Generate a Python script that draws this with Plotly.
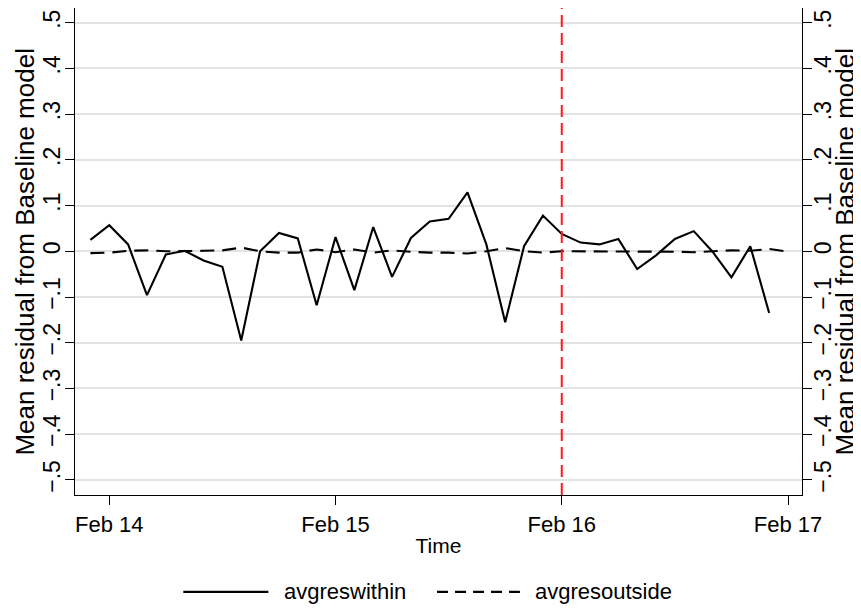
import pandas as pd
import plotly.graph_objects as go

# ---- data ----
times_within = pd.date_range("2021-02-13 22:00", periods=37, freq="2h")
times_outside = pd.date_range("2021-02-13 22:00", periods=38, freq="2h")

avgreswithin = [0.025, 0.057, 0.015, -0.096, -0.007, 0.001, -0.020, -0.034, -0.195, 0.000,
                0.040, 0.028, -0.118, 0.031, -0.085, 0.053, -0.056, 0.029, 0.065, 0.071,
                0.129, 0.015, -0.155, 0.011, 0.078, 0.038, 0.019, 0.015, 0.027, -0.039,
                -0.009, 0.027, 0.044, -0.001, -0.057, 0.011, -0.135]

avgresoutside = [-0.004, -0.003, 0.001, 0.002, 0.000, 0.000, 0.001, 0.002, 0.008, 0.000,
                 -0.003, -0.003, 0.004, -0.002, 0.004, -0.003, 0.002, -0.001, -0.003, -0.003,
                 -0.005, 0.000, 0.007, 0.000, -0.003, 0.000, 0.000, 0.000, 0.000, -0.001,
                 -0.001, -0.001, -0.002, 0.000, 0.002, 0.001, 0.005, -0.001]

y_tick_vals = [-0.5, -0.4, -0.3, -0.2, -0.1, 0, 0.1, 0.2, 0.3, 0.4, 0.5]
y_tick_text = ["\u2212.5", "\u2212.4", "\u2212.3", "\u2212.2", "\u2212.1", "0",
               ".1", ".2", ".3", ".4", ".5"]
x_tick_vals = ["2021-02-14", "2021-02-15", "2021-02-16", "2021-02-17"]
x_tick_text = ["Feb 14", "Feb 15", "Feb 16", "Feb 17"]
event_date = "2021-02-16"
series_names = ["avgreswithin", "avgresoutside"]
y_title = "Mean residual from Baseline model"

FONT = "Liberation Sans, Arial, Helvetica, sans-serif"
Y_TICK_SIZE = 23
Y_TITLE_SIZE = 26
X_TICK_SIZE = 22
X_TITLE_SIZE = 21
LEG_SIZE = 22
Y_RANGE = [-0.533, 0.532]
X_RANGE = ["2021-02-13 20:22", "2021-02-17 01:29"]
LW = 2.1

fig = go.Figure()
fig.add_trace(go.Scatter(x=times_within, y=avgreswithin, mode="lines",
                         name=series_names[0], showlegend=False,
                         line=dict(color="black", width=LW)))
fig.add_trace(go.Scatter(x=times_outside, y=avgresoutside, mode="lines",
                         name=series_names[1], showlegend=False, yaxis="y2",
                         line=dict(color="black", width=LW, dash="14px,8px")))

fig.add_shape(type="line", xref="x", yref="paper", x0=event_date, x1=event_date,
              y0=0, y1=1, line=dict(color="#ff1a1a", width=2, dash="12px,6px"))

# custom legend (long line samples like the original)
leg_y = -0.199
fig.add_shape(type="line", xref="paper", yref="paper", x0=0.149, x1=0.266,
              y0=leg_y, y1=leg_y, line=dict(color="black", width=LW))
fig.add_shape(type="line", xref="paper", yref="paper", x0=0.498, x1=0.612,
              y0=leg_y, y1=leg_y, line=dict(color="black", width=LW, dash="11px,7px"))
fig.add_annotation(xref="paper", yref="paper", x=0.285, y=leg_y, text=series_names[0],
                   showarrow=False, xanchor="left", yanchor="middle",
                   font=dict(family=FONT, size=LEG_SIZE, color="black"))
fig.add_annotation(xref="paper", yref="paper", x=0.630, y=leg_y, text=series_names[1],
                   showarrow=False, xanchor="left", yanchor="middle",
                   font=dict(family=FONT, size=LEG_SIZE, color="black"))

# y-axis titles on both sides, placed precisely
fig.add_annotation(xref="paper", yref="paper", x=-0.0700, y=0.5, text=y_title,
                   textangle=-90, showarrow=False, xanchor="center", yanchor="middle",
                   font=dict(family=FONT, size=Y_TITLE_SIZE, color="black"))
fig.add_annotation(xref="paper", yref="paper", x=1.0812, y=0.5, text=y_title,
                   textangle=-90, showarrow=False, xanchor="right", yanchor="middle",
                   font=dict(family=FONT, size=Y_TITLE_SIZE, color="black"))


def yaxis_style(side, label_shift):
    return dict(
        side=side,
        range=Y_RANGE, tickmode="array", tickvals=y_tick_vals, ticktext=y_tick_text,
        tickangle=-90, ticks="outside", ticklen=9, tickwidth=1.3, tickcolor="black",
        ticklabelstandoff=label_shift,
        showline=True, linecolor="black", linewidth=1.3,
        showgrid=True, gridcolor="#e3e3e3", gridwidth=1.6, zeroline=False,
        tickfont=dict(family=FONT, size=Y_TICK_SIZE, color="black"),
        automargin=False,
    )


# page body has an 8px default margin, so the figure is sized 8px smaller
fig.update_layout(
    width=853, height=602,
    margin=dict(l=67, r=59, t=0, b=115),
    paper_bgcolor="white", plot_bgcolor="white",
    showlegend=False,
    font=dict(family=FONT, size=X_TICK_SIZE, color="black"),
    xaxis=dict(
        type="date", range=X_RANGE, tickmode="array", tickvals=x_tick_vals,
        ticktext=x_tick_text, ticks="outside", ticklen=9, tickwidth=1.3,
        tickcolor="black", showline=True, linecolor="black", linewidth=1.3,
        showgrid=False, zeroline=False,
        tickfont=dict(family=FONT, size=X_TICK_SIZE, color="black"),
        title=dict(text="Time", font=dict(family=FONT, size=X_TITLE_SIZE, color="black"),
                   standoff=2),
        automargin=False,
    ),
    yaxis=yaxis_style("left", -4),
    yaxis2=dict(overlaying="y", matches="y", **yaxis_style("right", -9)),
)

fig.write_html("out.html")
